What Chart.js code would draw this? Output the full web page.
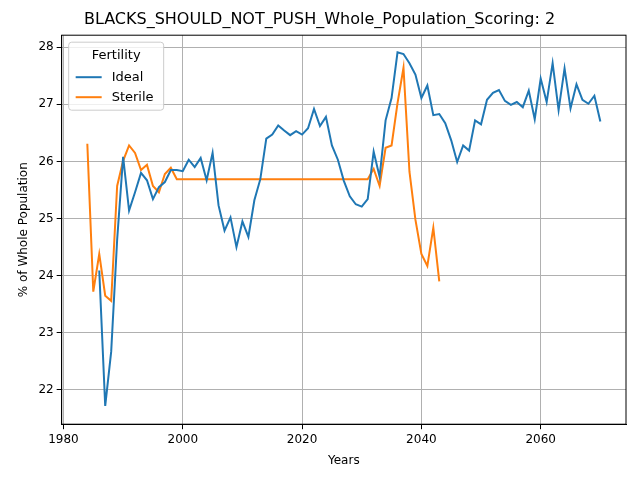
<!DOCTYPE html>
<html>
<head>
<meta charset="utf-8">
<script src="https://cdn.jsdelivr.net/npm/chart.js@4"></script>
<style>
  html, body { margin: 0; padding: 0; background: #fff; }
  #wrap { width: 640px; height: 480px; }
</style>
</head>
<body>
<div id="wrap"><canvas id="chart"></canvas></div>
<script>
const idealYears = [];
for (let y = 1986; y <= 2070; y++) idealYears.push(y);
const idealValues = [
  24.09, 21.72, 22.67, 24.63, 26.08, 25.14, 25.46, 25.80, 25.67, 25.34,
  25.55, 25.64, 25.85, 25.85, 25.83, 26.03, 25.90, 26.06, 25.67, 26.15,
  25.23, 24.79, 25.02, 24.50, 24.95, 24.68, 25.32, 25.69, 26.40, 26.47,
  26.63, 26.54, 26.46, 26.53, 26.47, 26.58, 26.92, 26.62, 26.78, 26.28,
  26.03, 25.66, 25.39, 25.25, 25.21, 25.34, 26.17, 25.73, 26.72, 27.11,
  27.91, 27.88, 27.72, 27.52, 27.11, 27.33, 26.81, 26.83, 26.67, 26.37,
  25.99, 26.28, 26.19, 26.72, 26.65, 27.08, 27.20, 27.25, 27.06, 26.99,
  27.04, 26.95, 27.24, 26.74, 27.45, 27.04, 27.72, 26.90, 27.63, 26.93,
  27.35, 27.08, 27.01, 27.15, 26.70
];

const sterileYears = [];
for (let y = 1984; y <= 2043; y++) sterileYears.push(y);
const sterileValues = [
  26.31, 23.72, 24.38, 23.65, 23.56, 25.57, 26.01, 26.28, 26.15, 25.85,
  25.94, 25.57, 25.46, 25.78, 25.89, 25.69, 25.69, 25.69, 25.69, 25.69,
  25.69, 25.69, 25.69, 25.69, 25.69, 25.69, 25.69, 25.69, 25.69, 25.69,
  25.69, 25.69, 25.69, 25.69, 25.69, 25.69, 25.69, 25.69, 25.69, 25.69,
  25.69, 25.69, 25.69, 25.69, 25.69, 25.69, 25.69, 25.69, 25.87, 25.57,
  26.24, 26.28, 27.02, 27.64, 25.82, 24.98, 24.38, 24.17, 24.84, 23.90
];

const xTicks = [1980, 2000, 2020, 2040, 2060];
const yTicks = [22, 23, 24, 25, 26, 27, 28];

function toPoints(xs, ys) {
  return xs.map((x, i) => ({ x: x, y: ys[i] }));
}

const ctx = document.getElementById('chart').getContext('2d');
new Chart(ctx, {
  type: 'line',
  data: {
    datasets: [
      {
        label: 'Ideal',
        data: toPoints(idealYears, idealValues),
        borderColor: '#1f77b4',
        backgroundColor: '#1f77b4',
        borderWidth: 2,
        pointRadius: 0,
        tension: 0
      },
      {
        label: 'Sterile',
        data: toPoints(sterileYears, sterileValues),
        borderColor: '#ff7f0e',
        backgroundColor: '#ff7f0e',
        borderWidth: 2,
        pointRadius: 0,
        tension: 0
      }
    ]
  },
  options: {
    responsive: true,
    maintainAspectRatio: false,
    animation: false,
    layout: { padding: { left: 13, right: 14, top: 4, bottom: 8 } },
    scales: {
      x: {
        type: 'linear',
        min: 1979.7,
        max: 2074.3,
        title: { display: true, text: 'Years', color: '#000', font: { family: 'DejaVu Sans', size: 12 } },
        afterBuildTicks: axis => { axis.ticks = xTicks.map(v => ({ value: v })); },
        ticks: { color: '#000', font: { family: 'DejaVu Sans', size: 12 }, callback: v => String(v) },
        grid: { color: '#b0b0b0', tickColor: '#000', tickLength: 5 },
        border: { color: '#000' }
      },
      y: {
        type: 'linear',
        min: 21.4,
        max: 28.21,
        title: { display: true, text: '% of Whole Population', color: '#000', font: { family: 'DejaVu Sans', size: 12 } },
        afterBuildTicks: axis => { axis.ticks = yTicks.map(v => ({ value: v })); },
        ticks: { color: '#000', font: { family: 'DejaVu Sans', size: 12 }, callback: v => String(v) },
        grid: { color: '#b0b0b0', tickColor: '#000', tickLength: 5 },
        border: { color: '#000' }
      }
    },
    plugins: {
      title: {
        display: true,
        text: 'BLACKS_SHOULD_NOT_PUSH_Whole_Population_Scoring: 2',
        color: '#000',
        font: { family: 'DejaVu Sans', size: 16, weight: 'normal' },
        padding: { top: 6, bottom: 6 }
      },
      legend: { display: false }
    }
  },
  plugins: [{
    id: 'boxLegend',
    afterDraw(chart) {
      const c = chart.ctx, a = chart.chartArea;
      c.save();
      c.strokeStyle = '#000';
      c.lineWidth = 1;
      c.strokeRect(a.left, a.top, a.right - a.left, a.bottom - a.top);
      const x = a.left + 7, y = a.top + 7, w = 95, h = 68;
      c.fillStyle = 'rgba(255,255,255,0.8)';
      c.strokeStyle = '#ccc';
      c.beginPath();
      c.roundRect(x, y, w, h, 3);
      c.fill(); c.stroke();
      c.fillStyle = '#000';
      c.font = '13px "DejaVu Sans"';
      c.textBaseline = 'middle';
      c.textAlign = 'center';
      c.fillText('Fertility', x + w / 2, y + 13);
      c.textAlign = 'left';
      chart.data.datasets.forEach((ds, i) => {
        const ly = y + 35 + i * 20;
        c.strokeStyle = ds.borderColor;
        c.lineWidth = 2;
        c.beginPath(); c.moveTo(x + 7, ly); c.lineTo(x + 33, ly); c.stroke();
        c.fillStyle = '#000';
        c.fillText(ds.label, x + 43, ly);
      });
      c.restore();
    }
  }]
});
</script>
</body>
</html>
